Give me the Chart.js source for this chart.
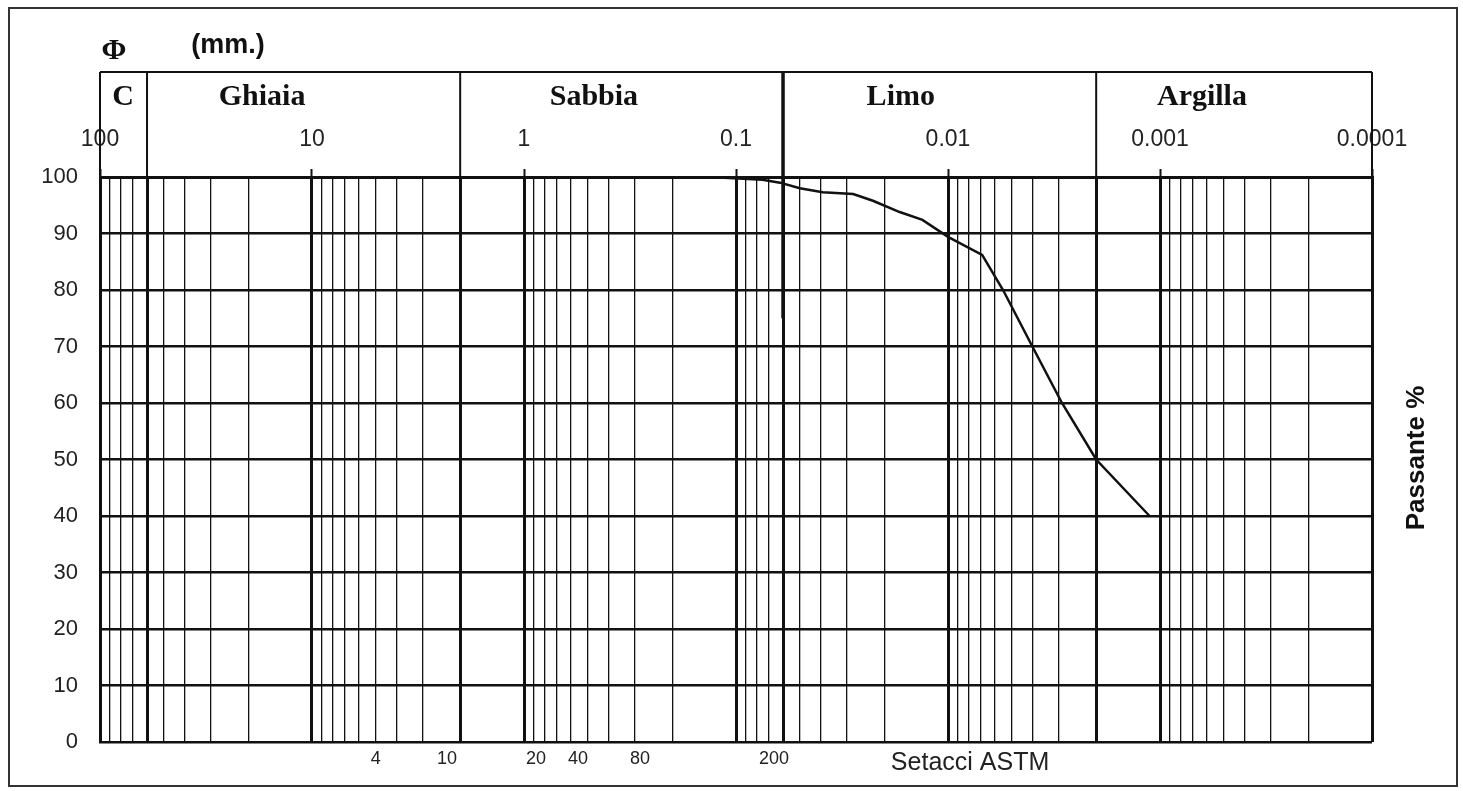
<!DOCTYPE html>
<html lang="it">
<head>
  <meta charset="UTF-8">
  <title>Curva granulometrica</title>
  <script src="https://cdn.jsdelivr.net/npm/chart.js"></script>
  <style>
    body { margin: 0; background: #fff; overflow: hidden; }
    #wrap { position: relative; width: 1463px; height: 791px; }
  </style>
</head>
<body>
<div id="wrap"><canvas id="chart"></canvas></div>

<script>
// diametro (mm) e passante (%)
const sizeMm = [0.133, 0.075, 0.062, 0.05, 0.039, 0.028, 0.0226, 0.0169, 0.0132, 0.0100, 0.0069, 0.0055, 0.0040, 0.0029, 0.0020, 0.00112];
const passingPct = [100, 99.5, 99, 98, 97.3, 97, 95.8, 93.8, 92.4, 89.4, 86.2, 80, 70, 60, 50, 40];

const decadeTicks = [100, 10, 1, 0.1, 0.01, 0.001, 0.0001];
const decadeLabels = ['100', '10', '1', '0.1', '0.01', '0.001', '0.0001'];

// setacci ASTM (etichette in basso)
const sieveLabels = ['4', '10', '20', '40', '80', '200', 'Setacci ASTM'];
const sieveAt = [5.0, 2.31, 0.877, 0.556, 0.284, 0.0662, 0.00787];

// classi granulometriche
const classNames = ['C', 'Ghiaia', 'Sabbia', 'Limo', 'Argilla'];
const classBounds = [100, 60, 2, 0.06, 0.002, 0.0001];
const classLabelAt = [77.9, 17.2, 0.468, 0.0167, 0.000634];

const yTicks = [0, 10, 20, 30, 40, 50, 60, 70, 80, 90, 100];

// griglia logaritmica 1..9 per decade
const gridValues = [];
for (let e = -4; e <= 1; e++) {
  for (let k = 1; k <= 9; k++) gridValues.push(parseFloat((k * Math.pow(10, e)).toPrecision(3)));
}
gridValues.push(100);

const isDecade = v => Math.abs(Math.log10(v) - Math.round(Math.log10(v))) < 1e-9;
const isBound = v => classBounds.some(b => Math.abs(b - v) / b < 1e-6);

const headerPlugin = {
  id: 'header',
  afterDraw(chart) {
    const { ctx, chartArea } = chart;
    const xs = chart.scales.x, ys = chart.scales.y;
    const top = 72;
    ctx.save();
    // cornice esterna
    ctx.strokeStyle = '#333';
    ctx.lineWidth = 2;
    ctx.strokeRect(9, 8, 1448, 778);

    // riquadro classi
    ctx.strokeStyle = '#111';
    ctx.lineWidth = 2;
    ctx.beginPath();
    ctx.moveTo(chartArea.left, top);
    ctx.lineTo(chartArea.right, top);
    classBounds.forEach(b => {
      const px = xs.getPixelForValue(b);
      ctx.moveTo(px, top);
      ctx.lineTo(px, chartArea.top);
    });
    ctx.stroke();
    // limite sabbia/limo prolungato
    ctx.lineWidth = 3.5;
    ctx.beginPath();
    const p06 = xs.getPixelForValue(0.06);
    ctx.moveTo(p06, top);
    ctx.lineTo(p06, ys.getPixelForValue(75));
    ctx.stroke();

    ctx.fillStyle = '#111';
    ctx.textAlign = 'center';
    ctx.textBaseline = 'middle';
    ctx.font = 'bold 30px "Liberation Serif", "DejaVu Serif", serif';
    classNames.forEach((n, i) => ctx.fillText(n, xs.getPixelForValue(classLabelAt[i]), 97));

    ctx.font = 'bold 30px "Liberation Serif", "DejaVu Serif", serif';
    ctx.fillText('\u03A6', 114, 51);
    ctx.font = 'bold 27px "Liberation Sans", Arial, sans-serif';
    ctx.fillText('(mm.)', 228, 46);

    ctx.translate(1417, 458);
    ctx.rotate(-Math.PI / 2);
    ctx.font = 'bold 26px "Liberation Sans", Arial, sans-serif';
    ctx.fillText('Passante %', 0, 0);
    ctx.restore();
  }
};

const ctx = document.getElementById('chart').getContext('2d');
new Chart(ctx, {
  type: 'line',
  data: {
    datasets: [{
      data: sizeMm.map((d, i) => ({ x: d, y: passingPct[i] })),
      borderColor: '#111',
      borderWidth: 2.5,
      pointRadius: 0,
      tension: 0,
      fill: false
    }]
  },
  options: {
    responsive: true,
    maintainAspectRatio: false,
    animation: false,
    layout: { padding: { left: 0, right: 91, top: 0, bottom: 0 } },
    plugins: { legend: { display: false }, tooltip: { enabled: false }, title: { display: false } },
    scales: {
      x: {
        type: 'logarithmic',
        position: 'top',
        reverse: true,
        min: 0.0001,
        max: 100,
        afterBuildTicks: s => { s.ticks = gridValues.map(v => ({ value: v })); },
        afterFit: s => { s.height = 177; },
        ticks: {
          autoSkip: false,
          maxRotation: 0,
          padding: 16,
          color: '#222',
          font: { family: '"Liberation Sans", Arial, sans-serif', size: 23 },
          callback: v => {
            const i = decadeTicks.findIndex(d => Math.abs(d - v) / d < 1e-6);
            return i >= 0 ? decadeLabels[i] : '';
          }
        },
        grid: {
          color: '#111',
          lineWidth: c => (c.tick && (isDecade(c.tick.value) || isBound(c.tick.value))) ? 3 : 1.3,
          tickLength: 8,
          tickColor: c => (c.tick && isDecade(c.tick.value)) ? '#111' : 'rgba(0,0,0,0)',
          tickWidth: 2
        },
        border: { display: true, color: '#111', width: 3 }
      },
      x2: {
        type: 'logarithmic',
        position: 'bottom',
        reverse: true,
        min: 0.0001,
        max: 100,
        afterBuildTicks: s => { s.ticks = sieveAt.map(v => ({ value: v })); },
        afterFit: s => { s.height = 49; },
        ticks: {
          autoSkip: false,
          maxRotation: 0,
          padding: 6,
          color: '#222',
          font: c => ({ family: '"Liberation Sans", Arial, sans-serif', size: c.index === sieveLabels.length - 1 ? 25 : 18 }),
          callback: (v, i) => sieveLabels[i]
        },
        grid: { display: false, drawTicks: false },
        border: { display: false }
      },
      y: {
        type: 'linear',
        min: 0,
        max: 100,
        afterBuildTicks: s => { s.ticks = yTicks.map(v => ({ value: v })); },
        afterFit: s => { s.width = 100; },
        ticks: {
          padding: 22,
          color: '#222',
          font: { family: '"Liberation Sans", Arial, sans-serif', size: 22 }
        },
        grid: { color: '#111', lineWidth: 2.5, drawTicks: false },
        border: { display: true, color: '#111', width: 3 }
      }
    }
  },
  plugins: [headerPlugin]
});
</script>
</body>
</html>
